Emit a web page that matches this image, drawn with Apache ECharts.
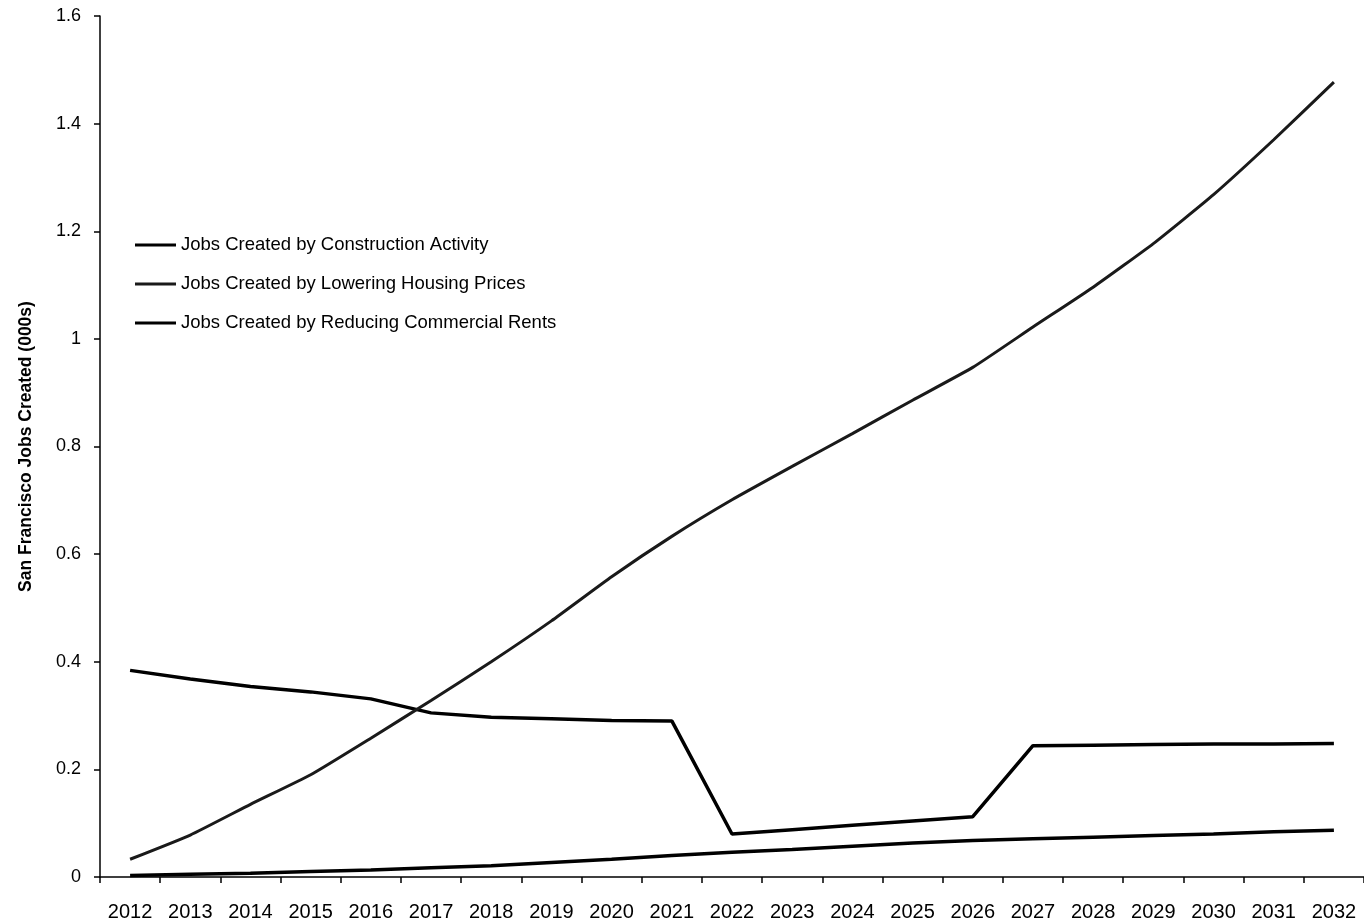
<!DOCTYPE html>
<html>
<head>
<meta charset="utf-8">
<script src="https://cdn.jsdelivr.net/npm/echarts@6/dist/echarts.min.js"></script>
<style>
html,body{margin:0;padding:0;background:#fff;}
#chart{width:1364px;height:923px;}
</style>
</head>
<body>
<div id="chart"></div>
<script>
const years = ['2012','2013','2014','2015','2016','2017','2018','2019','2020','2021','2022','2023','2024','2025','2026','2027','2028','2029','2030','2031','2032'];
const construction = [0.384,0.368,0.354,0.344,0.331,0.305,0.297,0.294,0.291,0.290,0.080,0.088,0.096,0.104,0.112,0.244,0.245,0.246,0.247,0.247,0.248];
const housing = [0.033,0.078,0.135,0.190,0.258,0.328,0.400,0.476,0.558,0.633,0.701,0.763,0.824,0.886,0.947,1.022,1.096,1.177,1.268,1.370,1.477];
const commercial = [0.003,0.005,0.007,0.010,0.013,0.017,0.021,0.027,0.033,0.040,0.046,0.051,0.057,0.063,0.068,0.071,0.074,0.077,0.080,0.084,0.087];
const seriesNames = ['Jobs Created by Construction Activity','Jobs Created by Lowering Housing Prices','Jobs Created by Reducing Commercial Rents'];
const yTitle = 'San Francisco Jobs Created (000s)';

const chart = echarts.init(document.getElementById('chart'));
const font = 'Liberation Sans';
chart.setOption({
  backgroundColor: '#fff',
  animation: false,
  grid: {left: 100, top: 16, bottom: 46, width: 1273},
  legend: {
    orient: 'vertical', left: 135, top: 235, padding: 0,
    icon: 'rect',
    itemWidth: 41, itemHeight: 3, itemGap: 19,
    textStyle: {fontFamily: font, fontSize: 18.5, lineHeight: 20, color: '#000'},
    data: seriesNames
  },
  xAxis: {
    type: 'category', data: years, boundaryGap: true,
    axisLine: {lineStyle: {color: '#000', width: 1.5}},
    axisTick: {show: true, length: 6, lineStyle: {color: '#000', width: 1.5}},
    axisLabel: {fontFamily: font, fontSize: 20, color: '#000', margin: 25, interval: 0}
  },
  yAxis: {
    type: 'value', min: 0, max: 1.6, interval: 0.2,
    name: yTitle, nameLocation: 'middle', nameGap: 65,
    nameTextStyle: {fontFamily: font, fontSize: 17.5, fontWeight: 'bold', color: '#000'},
    axisLine: {show: true, lineStyle: {color: '#000', width: 1.5}},
    axisTick: {show: true, length: 6, lineStyle: {color: '#000', width: 1.5}},
    axisLabel: {fontFamily: font, fontSize: 18, color: '#000', margin: 19},
    splitLine: {show: false}
  },
  series: [
    {name: seriesNames[0], type: 'line', data: construction, symbol: 'none', lineStyle: {color: '#000', width: 3.5}, itemStyle: {color: '#000'}},
    {name: seriesNames[1], type: 'line', data: housing, symbol: 'none', smooth: 0.15, lineStyle: {color: '#1a1a1a', width: 3}, itemStyle: {color: '#1a1a1a'}},
    {name: seriesNames[2], type: 'line', data: commercial, symbol: 'none', lineStyle: {color: '#000', width: 3.5}, itemStyle: {color: '#000'}}
  ]
});
</script>
</body>
</html>
